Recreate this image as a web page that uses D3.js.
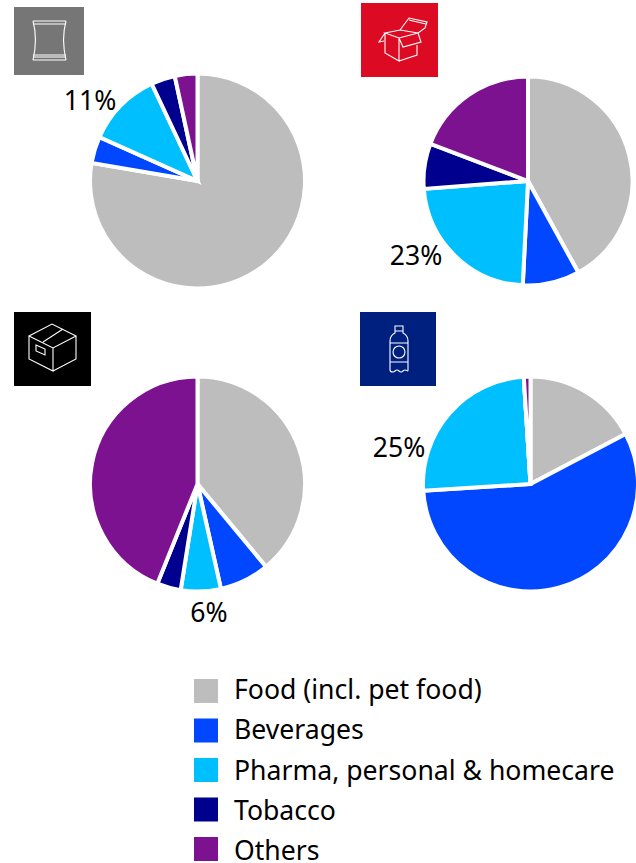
<!DOCTYPE html>
<html>
<head>
<meta charset="utf-8">
<script src="https://cdn.jsdelivr.net/npm/d3@7"></script>
<style>
  html, body { margin: 0; padding: 0; background: #fff; }
  svg { display: block; }
  text { font-family: "Noto Sans", "Open Sans", sans-serif; fill: #000; }
</style>
</head>
<body>
<svg id="chart" width="636" height="863"></svg>
<script>
const categories = ['Food (incl. pet food)', 'Beverages', 'Pharma, personal & homecare', 'Tobacco', 'Others'];
const colors = ['#bdbdbd', '#0047ff', '#00bfff', '#00008f', '#7d1291'];

const flexibleValues = [77.7, 4, 11.3, 3.6, 3.4];
const cartonValues = [42, 8.8, 23, 7, 19.2];
const cardboardValues = [39, 7.5, 6, 3.6, 43.9];
const bottleValues = [17.3, 56.7, 25, 0, 1];

const panelLabels = ['11%', '23%', '6%', '25%'];

const svg = d3.select('#chart');
const color = d3.scaleOrdinal().domain(categories).range(colors);
const pie = d3.pie().sort(null);

const panels = [
  { values: flexibleValues, cx: 197.5, cy: 181, r: 107.5, label: panelLabels[0], lx: 90, ly: 110, box: [14, 7, 70, 68], fill: '#767676', icon: 'bag' },
  { values: cartonValues, cx: 528, cy: 181, r: 104.5, label: panelLabels[1], lx: 416, ly: 265, box: [361, 3, 77, 74], fill: '#dc0a23', icon: 'open' },
  { values: cardboardValues, cx: 197.5, cy: 484, r: 107.5, label: panelLabels[2], lx: 209, ly: 622, box: [14, 312, 77, 74], fill: '#000', icon: 'box' },
  { values: bottleValues, cx: 530.5, cy: 484, r: 107.5, label: panelLabels[3], lx: 399, ly: 457, box: [360, 312, 76, 74], fill: '#00207f', icon: 'bottle' },
];

// Line art for the four packaging tiles, drawn in tile-local pixels.
const ICONS = {
  bag: 'M19 14H52M19 17H52M19 14C22 25 22 40 19 53M52 14C49 25 49 40 52 53M19 48H52M19 50H52M19 53H52',
  open: 'M24 30L39 27L57 30L38 35ZM24 30V50L38 58V35M38 58L56 52V42M38 35L42 44L60 39L57 30M39 27L48 15L66 19L64 25L57 30M48 17L65 21M24 30L18 39L23 38',
  box: 'M15 24L38 12L62 24L39 36ZM15 24V47L39 59V36M62 24V47L39 59M29 30L49 17M22 33L31 37V43L22 39Z',
  bottle: 'M35 14H43V19H35ZM35 19V21C31 23 30 25 30 29V58C30 60 31 60 33 60C35 60 35 58 37 58C39 58 39 60 41 60C43 60 43 58 45 58C47 58 48 60 48 58V29C48 25 47 23 43 21V19M30 31H48M30 50H48',
};

panels.forEach(p => {
  const arc = d3.arc().innerRadius(0).outerRadius(p.r);
  const g = svg.append('g').attr('transform', `translate(${p.cx},${p.cy})`);

  g.selectAll('path')
    .data(pie(p.values))
    .join('path')
    .attr('d', arc)
    .attr('fill', (d, i) => color(categories[i]))
    .attr('stroke', '#fff')
    .attr('stroke-width', 4)
    .attr('stroke-linejoin', 'miter');

  svg.append('text')
    .attr('x', p.lx)
    .attr('y', p.ly)
    .attr('text-anchor', 'middle')
    .attr('font-size', 26.6)
    .text(p.label);

  const [x, y, w, h] = p.box;
  const tile = svg.append('g').attr('transform', `translate(${x},${y})`);
  tile.append('rect').attr('width', w).attr('height', h).attr('fill', p.fill);
  tile.append('path')
    .attr('d', ICONS[p.icon])
    .attr('fill', 'none')
    .attr('stroke', '#fff')
    .attr('stroke-width', 1.1);
  if (p.icon === 'bottle') {
    tile.append('circle').attr('cx', 39).attr('cy', 40).attr('r', 6)
      .attr('fill', 'none').attr('stroke', '#fff').attr('stroke-width', 1.1);
  }
});

// Legend. Swatches and labels sit on slightly different pitches in the original.
const swatchY = d3.scalePoint().domain(categories).range([691, 849]);
const labelY = d3.scalePoint().domain(categories).range([699, 860]);
const legend = svg.append('g');
categories.forEach(c => {
  legend.append('rect')
    .attr('x', 194)
    .attr('y', swatchY(c) - 12)
    .attr('width', 24)
    .attr('height', 24)
    .attr('fill', color(c));
  legend.append('text')
    .attr('x', 234)
    .attr('y', labelY(c))
    .attr('font-size', 26.6)
    .text(c);
});
</script>
</body>
</html>
